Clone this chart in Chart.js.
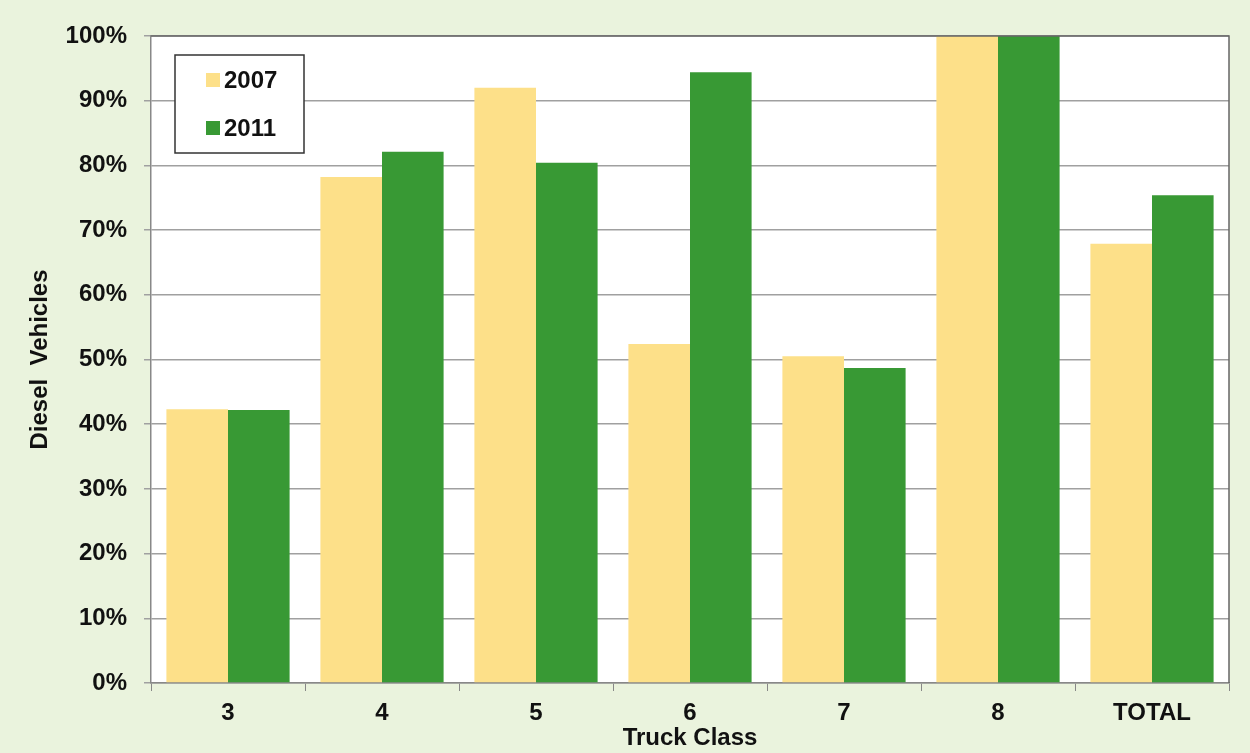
<!DOCTYPE html>
<html lang="en">
<head>
    <meta charset="UTF-8">
    <title>Diesel Vehicles by Truck Class</title>
    <script src="https://cdn.jsdelivr.net/npm/chart.js@4.4.1/dist/chart.umd.min.js"></script>
    <style>
        html, body { margin: 0; padding: 0; background: #eaf3dd; }
        #wrap { width: 1250px; height: 753px; }
    </style>
</head>
<body>
    <script>
        // chart data
        var truckClasses = ['3', '4', '5', '6', '7', '8', 'TOTAL'];
        var seriesNames = ['2007', '2011'];
        var values2007 = [42.3, 78.2, 92.0, 52.4, 50.5, 100, 67.9];
        var values2011 = [42.2, 82.1, 80.4, 94.4, 48.7, 100, 75.4];
        var yTicks = [0, 10, 20, 30, 40, 50, 60, 70, 80, 90, 100];
    </script>

    <div id="wrap"><canvas id="myChart"></canvas></div>

    <script>
        var fontFam = '"Liberation Sans", Arial, sans-serif';

        // white plot area + frame, and the boxed legend in the top left
        var plotDecor = {
            id: 'plotDecor',
            beforeDraw: function (chart) {
                var a = chart.chartArea, ctx = chart.ctx;
                ctx.save();
                ctx.fillStyle = '#ffffff';
                ctx.fillRect(a.left, a.top, a.right - a.left, a.bottom - a.top);
                ctx.restore();
            },
            afterDraw: function (chart) {
                var a = chart.chartArea, ctx = chart.ctx;
                ctx.save();
                ctx.strokeStyle = '#666666';
                ctx.lineWidth = 1.5;
                ctx.beginPath();
                ctx.moveTo(a.left, a.top);
                ctx.lineTo(a.right, a.top);
                ctx.lineTo(a.right, a.bottom);
                ctx.stroke();

                // legend box
                var bx = a.left + 24, by = a.top + 19, bw = 129, bh = 98;
                ctx.fillStyle = '#ffffff';
                ctx.fillRect(bx, by, bw, bh);
                ctx.strokeStyle = '#333333';
                ctx.lineWidth = 1.5;
                ctx.strokeRect(bx, by, bw, bh);
                ctx.font = 'bold 24px ' + fontFam;
                ctx.textBaseline = 'middle';
                chart.data.datasets.forEach(function (ds, i) {
                    var cy = by + 25 + i * 48;
                    ctx.fillStyle = ds.backgroundColor;
                    ctx.fillRect(bx + 31, cy - 7, 14, 14);
                    ctx.fillStyle = '#111111';
                    ctx.fillText(ds.label, bx + 49, cy + 1);
                });
                ctx.restore();
            }
        };

        var ctx = document.getElementById('myChart').getContext('2d');
        var myChart = new Chart(ctx, {
            type: 'bar',
            data: {
                labels: truckClasses,
                datasets: [{
                    label: seriesNames[0],
                    backgroundColor: '#fde089',
                    data: values2007
                }, {
                    label: seriesNames[1],
                    backgroundColor: '#389934',
                    data: values2011
                }]
            },
            options: {
                responsive: true,
                maintainAspectRatio: false,
                animation: false,
                categoryPercentage: 0.8,
                barPercentage: 1.0,
                layout: {
                    padding: { top: 36, right: 21, bottom: 0, left: 26 }
                },
                plugins: {
                    legend: { display: false },
                    tooltip: { enabled: false }
                },
                scales: {
                    x: {
                        afterFit: function (axis) { axis.height = 70; },
                        grid: {
                            offset: true,
                            drawOnChartArea: false,
                            color: '#888888',
                            tickLength: 8
                        },
                        border: { color: '#888888', width: 1.5 },
                        ticks: {
                            color: '#111111',
                            padding: 8,
                            font: { family: fontFam, size: 24, weight: 'bold' }
                        },
                        title: {
                            display: true,
                            text: 'Truck Class',
                            color: '#111111',
                            padding: { top: 0, bottom: 0 },
                            font: { family: fontFam, size: 24, weight: 'bold' }
                        }
                    },
                    y: {
                        min: 0,
                        max: 100,
                        afterFit: function (axis) { axis.width = 125; },
                        afterBuildTicks: function (axis) {
                            axis.ticks = yTicks.map(function (v) { return { value: v }; });
                        },
                        grid: {
                            color: '#a0a0a0',
                            lineWidth: 1.5,
                            tickLength: 7
                        },
                        border: { color: '#888888', width: 1.5 },
                        ticks: {
                            color: '#111111',
                            padding: 17,
                            font: { family: fontFam, size: 24, weight: 'bold' },
                            callback: function (v) { return v + '%'; }
                        },
                        title: {
                            display: true,
                            text: 'Diesel  Vehicles',
                            color: '#111111',
                            padding: { top: 0, bottom: 8 },
                            font: { family: fontFam, size: 24, weight: 'bold' }
                        }
                    }
                }
            },
            plugins: [plotDecor]
        });
    </script>
</body>
</html>
